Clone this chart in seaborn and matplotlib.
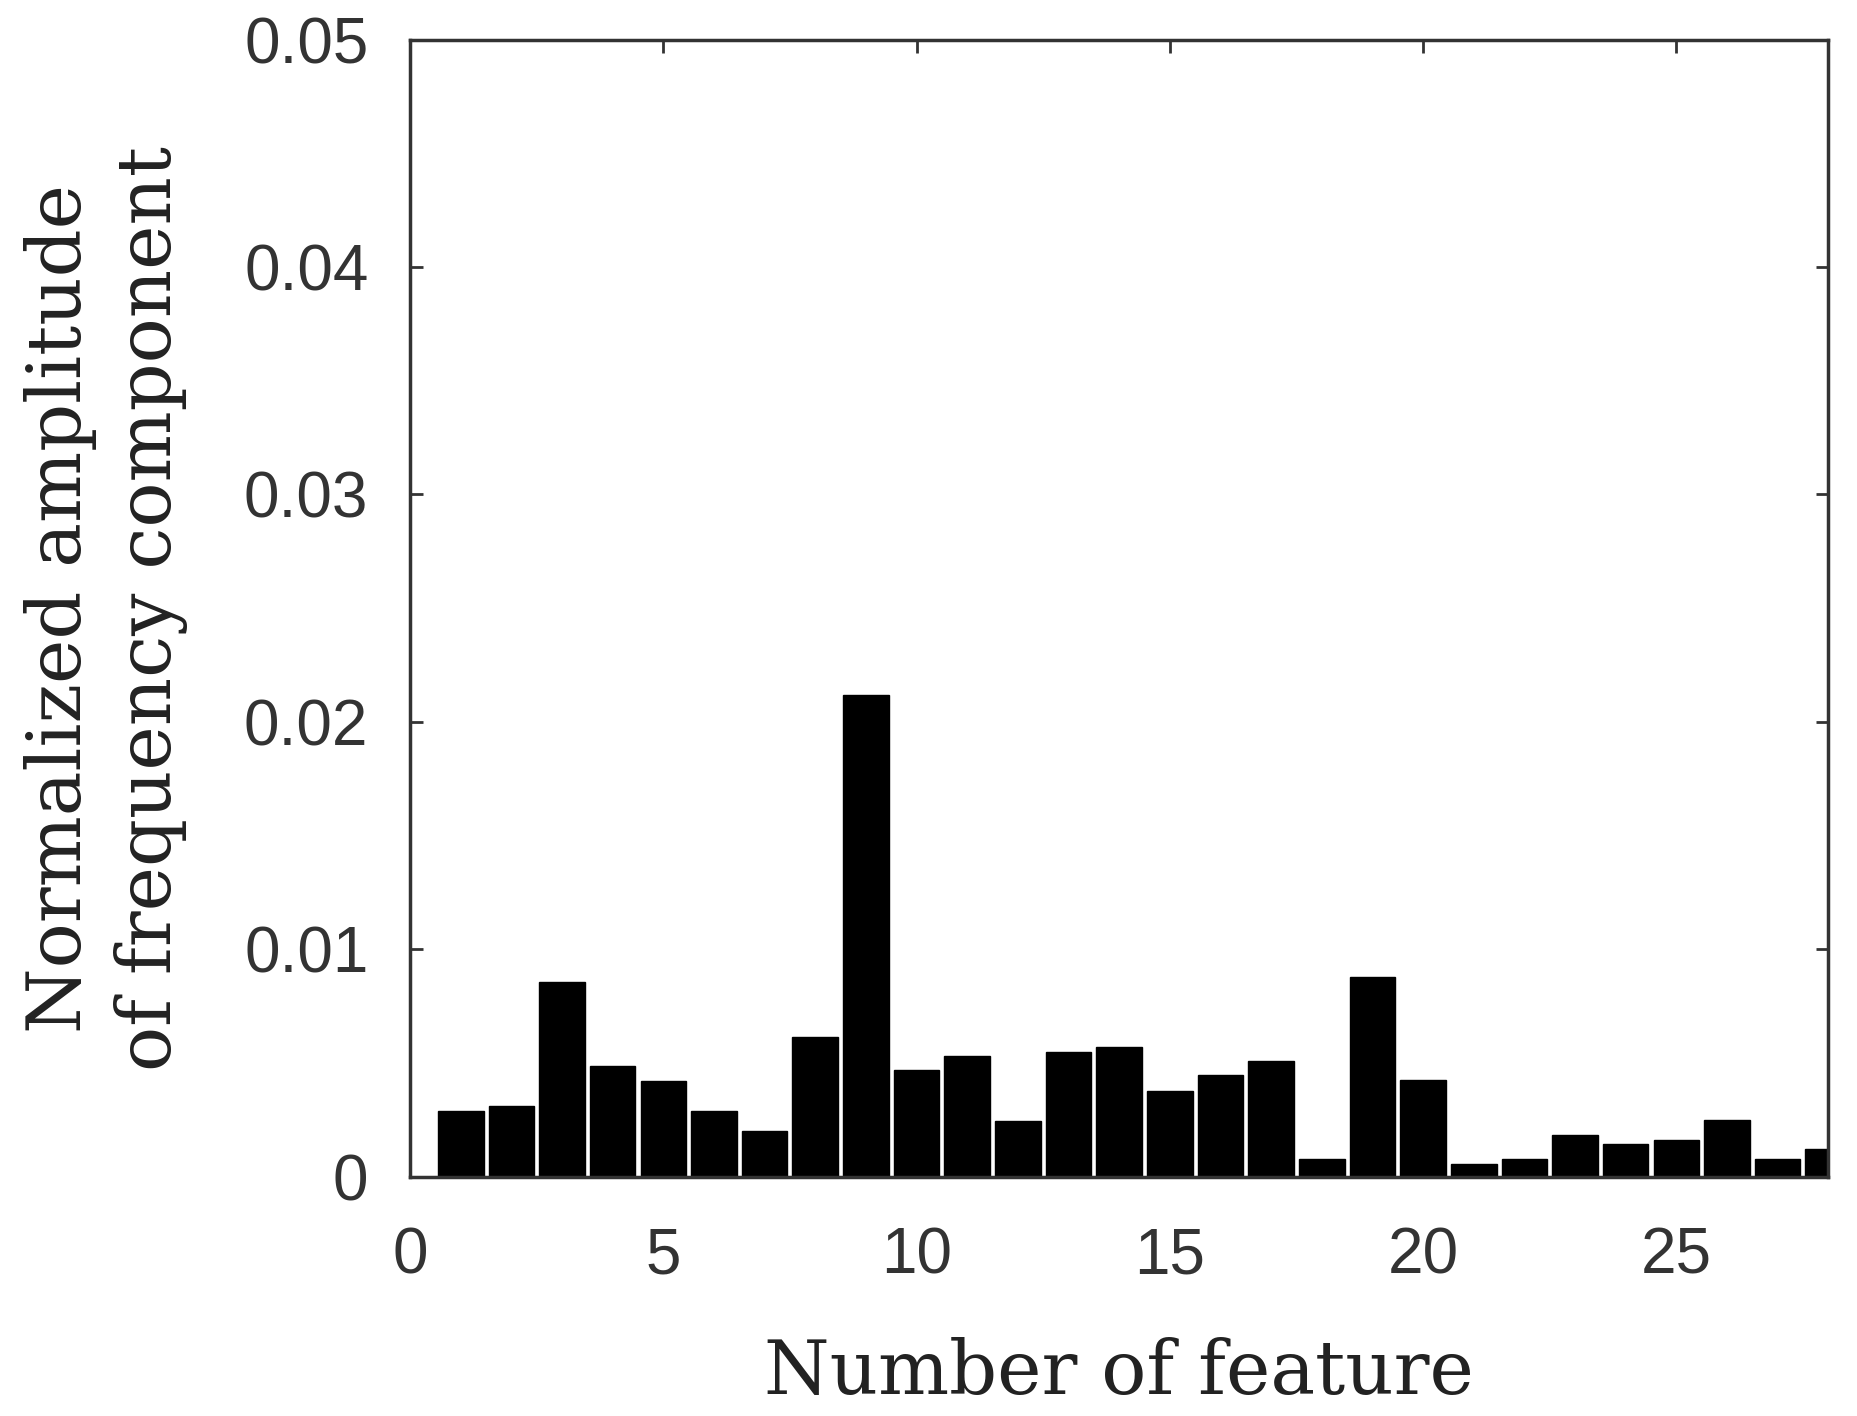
import pandas as pd
import matplotlib.pyplot as plt
import seaborn as sns

# bar values
features = list(range(1, 29))
amplitude = [0.00289, 0.00312, 0.00858, 0.00486, 0.00421, 0.00289, 0.00202, 0.00616,
             0.02118, 0.00467, 0.00530, 0.00247, 0.00550, 0.00572, 0.00379, 0.00446,
             0.00509, 0.00077, 0.00877, 0.00424, 0.00056, 0.00077, 0.00184, 0.00142,
             0.00163, 0.00250, 0.00077, 0.00122]
xticks = [0, 5, 10, 15, 20, 25]
yticks = [0, 0.01, 0.02, 0.03, 0.04, 0.05]
ytick_labels = ['0', '0.01', '0.02', '0.03', '0.04', '0.05']

df = pd.DataFrame({'feature': features, 'amplitude': amplitude})

sns.set_style("white")
plt.rcParams['font.family'] = ['Liberation Sans', 'DejaVu Sans']

fig = plt.figure(figsize=(18.58, 14.16), dpi=100)
ax = fig.add_axes([0.2207, 0.169, 0.7633, 0.803])

sns.barplot(data=df, x='feature', y='amplitude', native_scale=True, width=0.9,
            color='black', edgecolor='black', linewidth=1, saturation=1, ax=ax)

ax.set_xlim(0, 28)
ax.set_ylim(0, 0.05)
ax.set_xticks(xticks)
ax.set_yticks(yticks)
ax.set_yticklabels(ytick_labels)

ax.tick_params(direction='in', length=9, width=2, colors='#333333',
               labelsize=46, top=True, right=True, bottom=True, left=True)
ax.tick_params(axis='y', pad=30)
ax.tick_params(axis='x', pad=36)
for sp in ax.spines.values():
    sp.set_color('#333333')
    sp.set_linewidth(2.5)
    sp.set_visible(True)

ax.set_xlabel('Number of feature', fontsize=54, family='DejaVu Serif',
              color='#222222', labelpad=36)
ax.set_ylabel('Normalized amplitude\nof frequency component', fontsize=54,
              family='DejaVu Serif', color='#222222', labelpad=40, linespacing=1.3)

fig.savefig('out.png', dpi=100)
